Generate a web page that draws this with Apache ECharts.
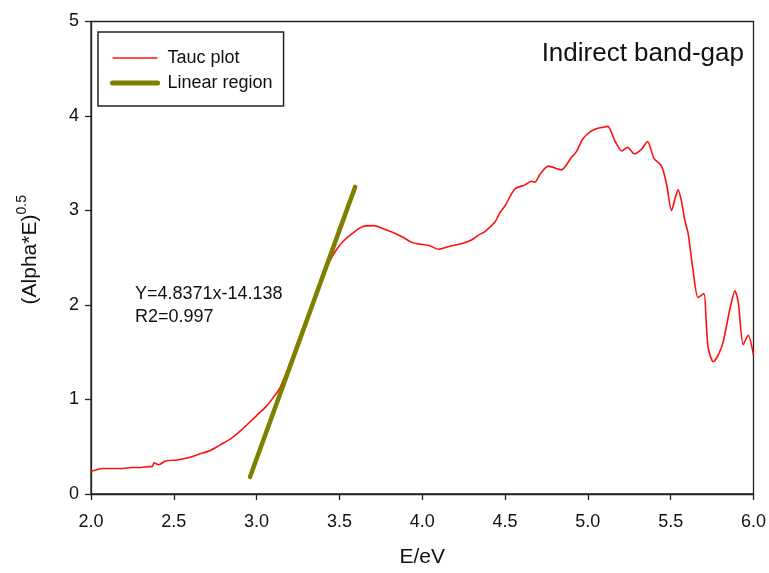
<!DOCTYPE html>
<html>
<head>
<meta charset="utf-8">
<script src="https://cdn.jsdelivr.net/npm/echarts@6/dist/echarts.min.js"></script>
<style>
html,body{margin:0;padding:0;background:#fff;overflow:hidden;}
#chart{position:fixed;left:0;top:0;width:769px;height:573px;}
</style>
</head>
<body>
<div id="chart"></div>
<script>
// Tauc plot data (E in eV, (Alpha*E)^0.5)
const taucE = [2.00,2.04,2.07,2.13,2.19,2.25,2.30,2.35,2.37,2.38,2.41,2.45,2.52,2.58,2.65,2.72,2.78,2.84,2.89,2.94,3.00,3.06,3.10,3.14,3.20,3.30,3.40,3.44,3.48,3.52,3.58,3.64,3.71,3.76,3.82,3.88,3.94,3.98,4.04,4.10,4.16,4.24,4.30,4.34,4.38,4.44,4.47,4.50,4.56,4.62,4.66,4.68,4.71,4.76,4.84,4.90,4.93,4.97,5.02,5.06,5.09,5.12,5.165,5.205,5.24,5.28,5.325,5.36,5.40,5.445,5.475,5.505,5.53,5.545,5.565,5.585,5.605,5.635,5.665,5.70,5.715,5.727,5.757,5.79,5.817,5.858,5.888,5.908,5.938,5.968,6.00];
const taucY = [0.24,0.26,0.27,0.27,0.27,0.28,0.28,0.29,0.29,0.33,0.31,0.35,0.36,0.38,0.42,0.46,0.52,0.58,0.65,0.73,0.83,0.93,1.02,1.12,1.38,1.85,2.30,2.46,2.58,2.67,2.76,2.83,2.84,2.81,2.77,2.72,2.66,2.645,2.63,2.59,2.62,2.65,2.69,2.74,2.78,2.88,2.98,3.05,3.23,3.27,3.31,3.30,3.38,3.47,3.43,3.56,3.62,3.76,3.84,3.87,3.88,3.89,3.73,3.63,3.67,3.60,3.65,3.73,3.55,3.47,3.28,3.00,3.15,3.22,3.10,2.90,2.76,2.37,2.08,2.12,1.80,1.54,1.40,1.48,1.61,1.96,2.15,2.03,1.58,1.68,1.47];
// Linear region endpoints
const fitE = [2.96, 3.595];
const fitY = [0.18, 3.25];
// Axis ticks
const xTicks = [2.0, 2.5, 3.0, 3.5, 4.0, 4.5, 5.0, 5.5, 6.0];
const yTicks = [0, 1, 2, 3, 4, 5];
const seriesNames = ['Tauc plot', 'Linear region'];
const titleText = 'Indirect band-gap';
const eqLines = ['Y=4.8371x-14.138', 'R2=0.997'];

const RED = '#ff1010';
const OLIVE = '#7f7f00';
const FONT = '"Liberation Sans", Arial, sans-serif';
const chart = echarts.init(document.getElementById('chart'), null, {renderer: 'canvas', width: 769, height: 573});

const option = {
  animation: false,
  backgroundColor: '#fff',
  textStyle: {fontFamily: FONT},
  grid: {left: 91, right: 14, top: 21.5, bottom: 72, show: true, borderColor: '#222', borderWidth: 1.3, containLabel: false},
  title: {
    text: titleText, right: 20, top: 36,
    textStyle: {fontSize: 26, fontWeight: 'normal', color: '#111', fontFamily: FONT}
  },
  legend: {
    left: 98, top: 32, orient: 'vertical',
    data: [
      {name: seriesNames[0], lineStyle: {width: 1.6, color: RED}},
      {name: seriesNames[1], lineStyle: {width: 5, color: OLIVE, cap: 'round'}}
    ],
    itemWidth: 45, itemHeight: 14, itemGap: 7,
    padding: [17, 11, 14, 12],
    borderColor: '#222', borderWidth: 1.5,
    itemStyle: {opacity: 0, borderWidth: 0},
    textStyle: {fontSize: 18, color: '#111', fontFamily: FONT, padding: [0, 0, 0, 5]}
  },
  graphic: [{
    type: 'text', left: 135, top: 283,
    style: {text: eqLines.join('\n'), fontSize: 18, lineHeight: 23, fill: '#111', font: '18px "Liberation Sans", Arial, sans-serif'}
  }],
  xAxis: {
    type: 'value', min: xTicks[0], max: xTicks[xTicks.length - 1], interval: 0.5,
    name: 'E/eV', nameLocation: 'middle', nameGap: 53,
    nameTextStyle: {fontSize: 21, color: '#111', fontFamily: FONT},
    axisLine: {onZero: false, lineStyle: {color: '#222', width: 1.3}},
    axisTick: {show: true, inside: false, length: 6, lineStyle: {color: '#222', width: 1.3}},
    axisLabel: {fontSize: 18, color: '#111', margin: 19, formatter: v => v.toFixed(1), fontFamily: FONT},
    splitLine: {show: false}
  },
  yAxis: {
    type: 'value', min: yTicks[0], max: yTicks[yTicks.length - 1], interval: 1,
    name: '{m|(Alpha*E)}{s|0.5}', nameLocation: 'middle', nameGap: 50, nameRotate: 90,
    nameTextStyle: {
      color: '#111', fontFamily: FONT, padding: [0, 0, 0, 16],
      rich: {
        m: {fontSize: 21, color: '#111', fontFamily: FONT, verticalAlign: 'bottom', lineHeight: 26},
        s: {fontSize: 14, color: '#111', fontFamily: FONT, verticalAlign: 'top', lineHeight: 26, padding: [0, 0, 10, 0]}
      }
    },
    axisLine: {onZero: false, lineStyle: {color: '#222', width: 1.3}},
    axisTick: {show: true, inside: false, length: 6, lineStyle: {color: '#222', width: 1.3}},
    axisLabel: {fontSize: 18, color: '#111', margin: 12, fontFamily: FONT},
    splitLine: {show: false}
  },
  series: [
    {
      name: seriesNames[0], type: 'line', showSymbol: false, symbol: 'none', smooth: 0.25,
      data: taucE.map((e, i) => [e, taucY[i]]),
      lineStyle: {color: RED, width: 1.6}, itemStyle: {color: RED}, z: 2
    },
    {
      name: seriesNames[1], type: 'line', showSymbol: false, symbol: 'none',
      data: fitE.map((e, i) => [e, fitY[i]]),
      lineStyle: {color: OLIVE, width: 4.5, cap: 'round'}, itemStyle: {color: OLIVE}, z: 3
    }
  ]
};
chart.setOption(option);
</script>
</body>
</html>
